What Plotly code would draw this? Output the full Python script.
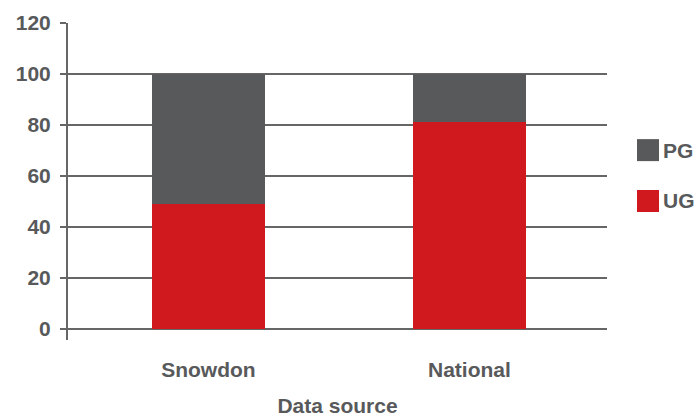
import plotly.graph_objects as go

# Share of students by level, per data source
sources = ["Snowdon", "National"]
ug_share = [49, 81]
pg_share = [51, 19]
y_ticks = [0, 20, 40, 60, 80, 100, 120]

RED = "#d0181f"
GREY = "#58595b"
LINE = "#666666"
TEXT = "#58595b"
FONT = dict(family="Liberation Sans, Arial, sans-serif", size=21, color=TEXT, weight="bold")

fig = go.Figure()
fig.add_trace(go.Bar(x=sources, y=ug_share, name="UG", marker=dict(color=RED, line=dict(width=0)),
                     width=0.433, showlegend=False))
fig.add_trace(go.Bar(x=sources, y=pg_share, name="PG", marker=dict(color=GREY, line=dict(width=0)),
                     width=0.433, showlegend=False))

# Legend drawn as large swatches beside the plot
legend_items = [("PG", GREY, 0.599), ("UG", RED, 0.4385)]
for label, color, yc in legend_items:
    half = 11 / 317
    fig.add_shape(type="rect", xref="paper", yref="paper",
                  x0=1.0557, x1=1.0965, y0=yc - half, y1=yc + half,
                  fillcolor=color, line=dict(width=0))
    fig.add_annotation(text=label, xref="paper", yref="paper", x=1.100, y=yc,
                       xanchor="left", yanchor="middle", showarrow=False, font=FONT)

fig.update_layout(
    barmode="stack",
    width=697, height=417,
    margin=dict(l=68, r=90, t=23, b=77),
    paper_bgcolor="white", plot_bgcolor="white",
    font=FONT,
    bargap=0,
)
fig.update_xaxes(
    type="category", range=[-0.538, 1.527], automargin=False,
    showline=False, showgrid=False, ticks="", zeroline=False,
    tickfont=FONT, ticklabelstandoff=15,
    title=dict(text="Data source", font=FONT, standoff=20),
)
fig.update_yaxes(
    range=[-4.3, 120], tickvals=y_ticks, automargin=False,
    showgrid=True, gridcolor=LINE, gridwidth=2, zeroline=False,
    showline=True, linecolor=LINE, linewidth=2,
    ticks="outside", ticklen=6, tickwidth=2, tickcolor=LINE,
    tickfont=FONT, ticklabelstandoff=5,
)

fig.write_html("out.html")
